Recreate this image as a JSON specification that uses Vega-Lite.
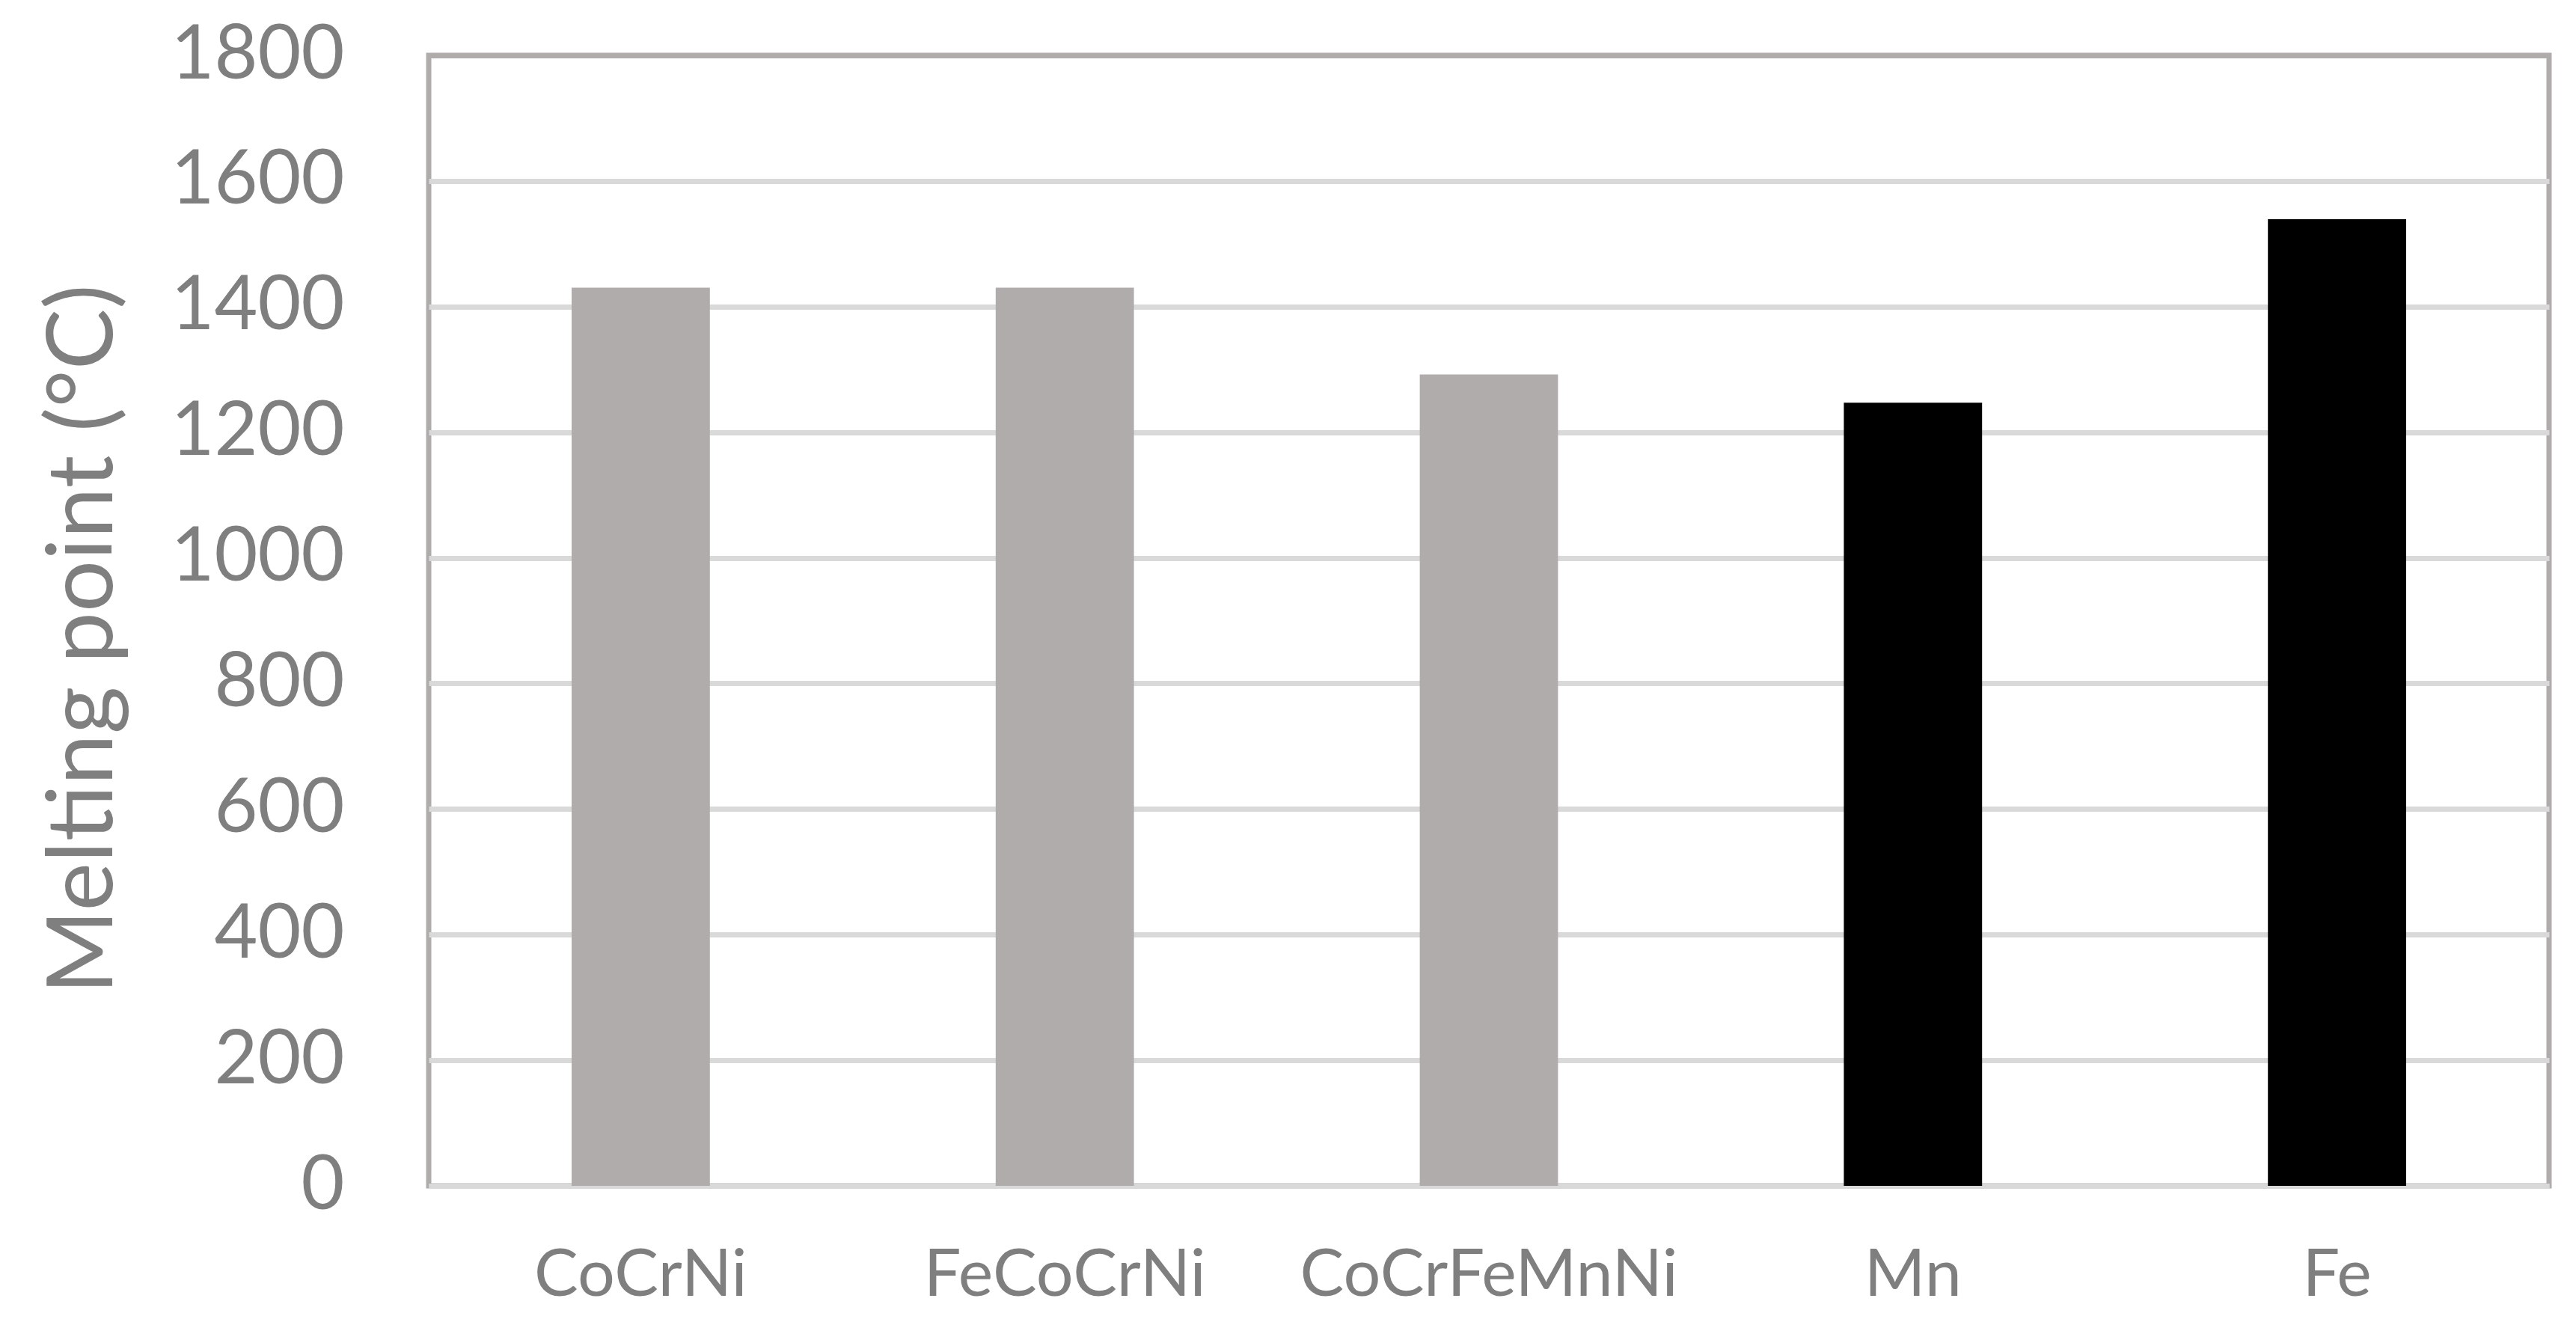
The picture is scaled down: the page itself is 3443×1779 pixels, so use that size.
{
  "$schema": "https://vega.github.io/schema/vega-lite/v6.json",
  "autosize": "none",
  "width": 2834,
  "height": 1511,
  "padding": {"left": 573, "top": 74, "right": 36, "bottom": 194},
  "background": "white",
  "config": {
    "view": {"stroke": "#AFACAB", "strokeWidth": 7},
    "font": "Lato"
  },
  "data": {
    "values": [
      {"alloy": "CoCrNi", "melting": 1430, "group": "alloy"},
      {"alloy": "FeCoCrNi", "melting": 1430, "group": "alloy"},
      {"alloy": "CoCrFeMnNi", "melting": 1292, "group": "alloy"},
      {"alloy": "Mn", "melting": 1247, "group": "element"},
      {"alloy": "Fe", "melting": 1539, "group": "element"}
    ]
  },
  "mark": {"type": "bar"},
  "encoding": {
    "x": {
      "field": "alloy",
      "type": "nominal",
      "sort": null,
      "scale": {"paddingInner": 0.674, "paddingOuter": 0.337},
      "axis": {
        "title": null,
        "labelAngle": 0,
        "labelFont": "Lato",
        "labelFontSize": 88,
        "labelColor": "#7F7F7F",
        "labelPadding": 76,
        "labelLimit": 0,
        "ticks": false,
        "tickSize": 0,
        "domain": true,
        "domainColor": "#D9D9D9",
        "domainWidth": 7,
        "grid": false
      }
    },
    "y": {
      "field": "melting",
      "type": "quantitative",
      "scale": {"domain": [0, 1800], "nice": false},
      "axis": {
        "title": "Melting point (°C)",
        "titleFont": "Lato",
        "titleFontSize": 122,
        "titleFontWeight": "normal",
        "titleColor": "#7F7F7F",
        "titlePadding": 198,
        "titleY": 780,
        "values": [0, 200, 400, 600, 800, 1000, 1200, 1400, 1600, 1800],
        "format": "d",
        "labelFont": "Lato",
        "labelFontSize": 100,
        "labelColor": "#7F7F7F",
        "labelPadding": 113,
        "labelLimit": 0,
        "ticks": false,
        "tickSize": 0,
        "domain": false,
        "grid": true,
        "gridColor": {"condition": {"test": "datum.value === 1800", "value": "#AFACAB"}, "value": "#D9D9D9"},
        "gridWidth": 7
      }
    },
    "color": {
      "field": "group",
      "type": "nominal",
      "scale": {"domain": ["alloy", "element"], "range": ["#AFACAB", "#000000"]},
      "legend": null
    }
  }
}
